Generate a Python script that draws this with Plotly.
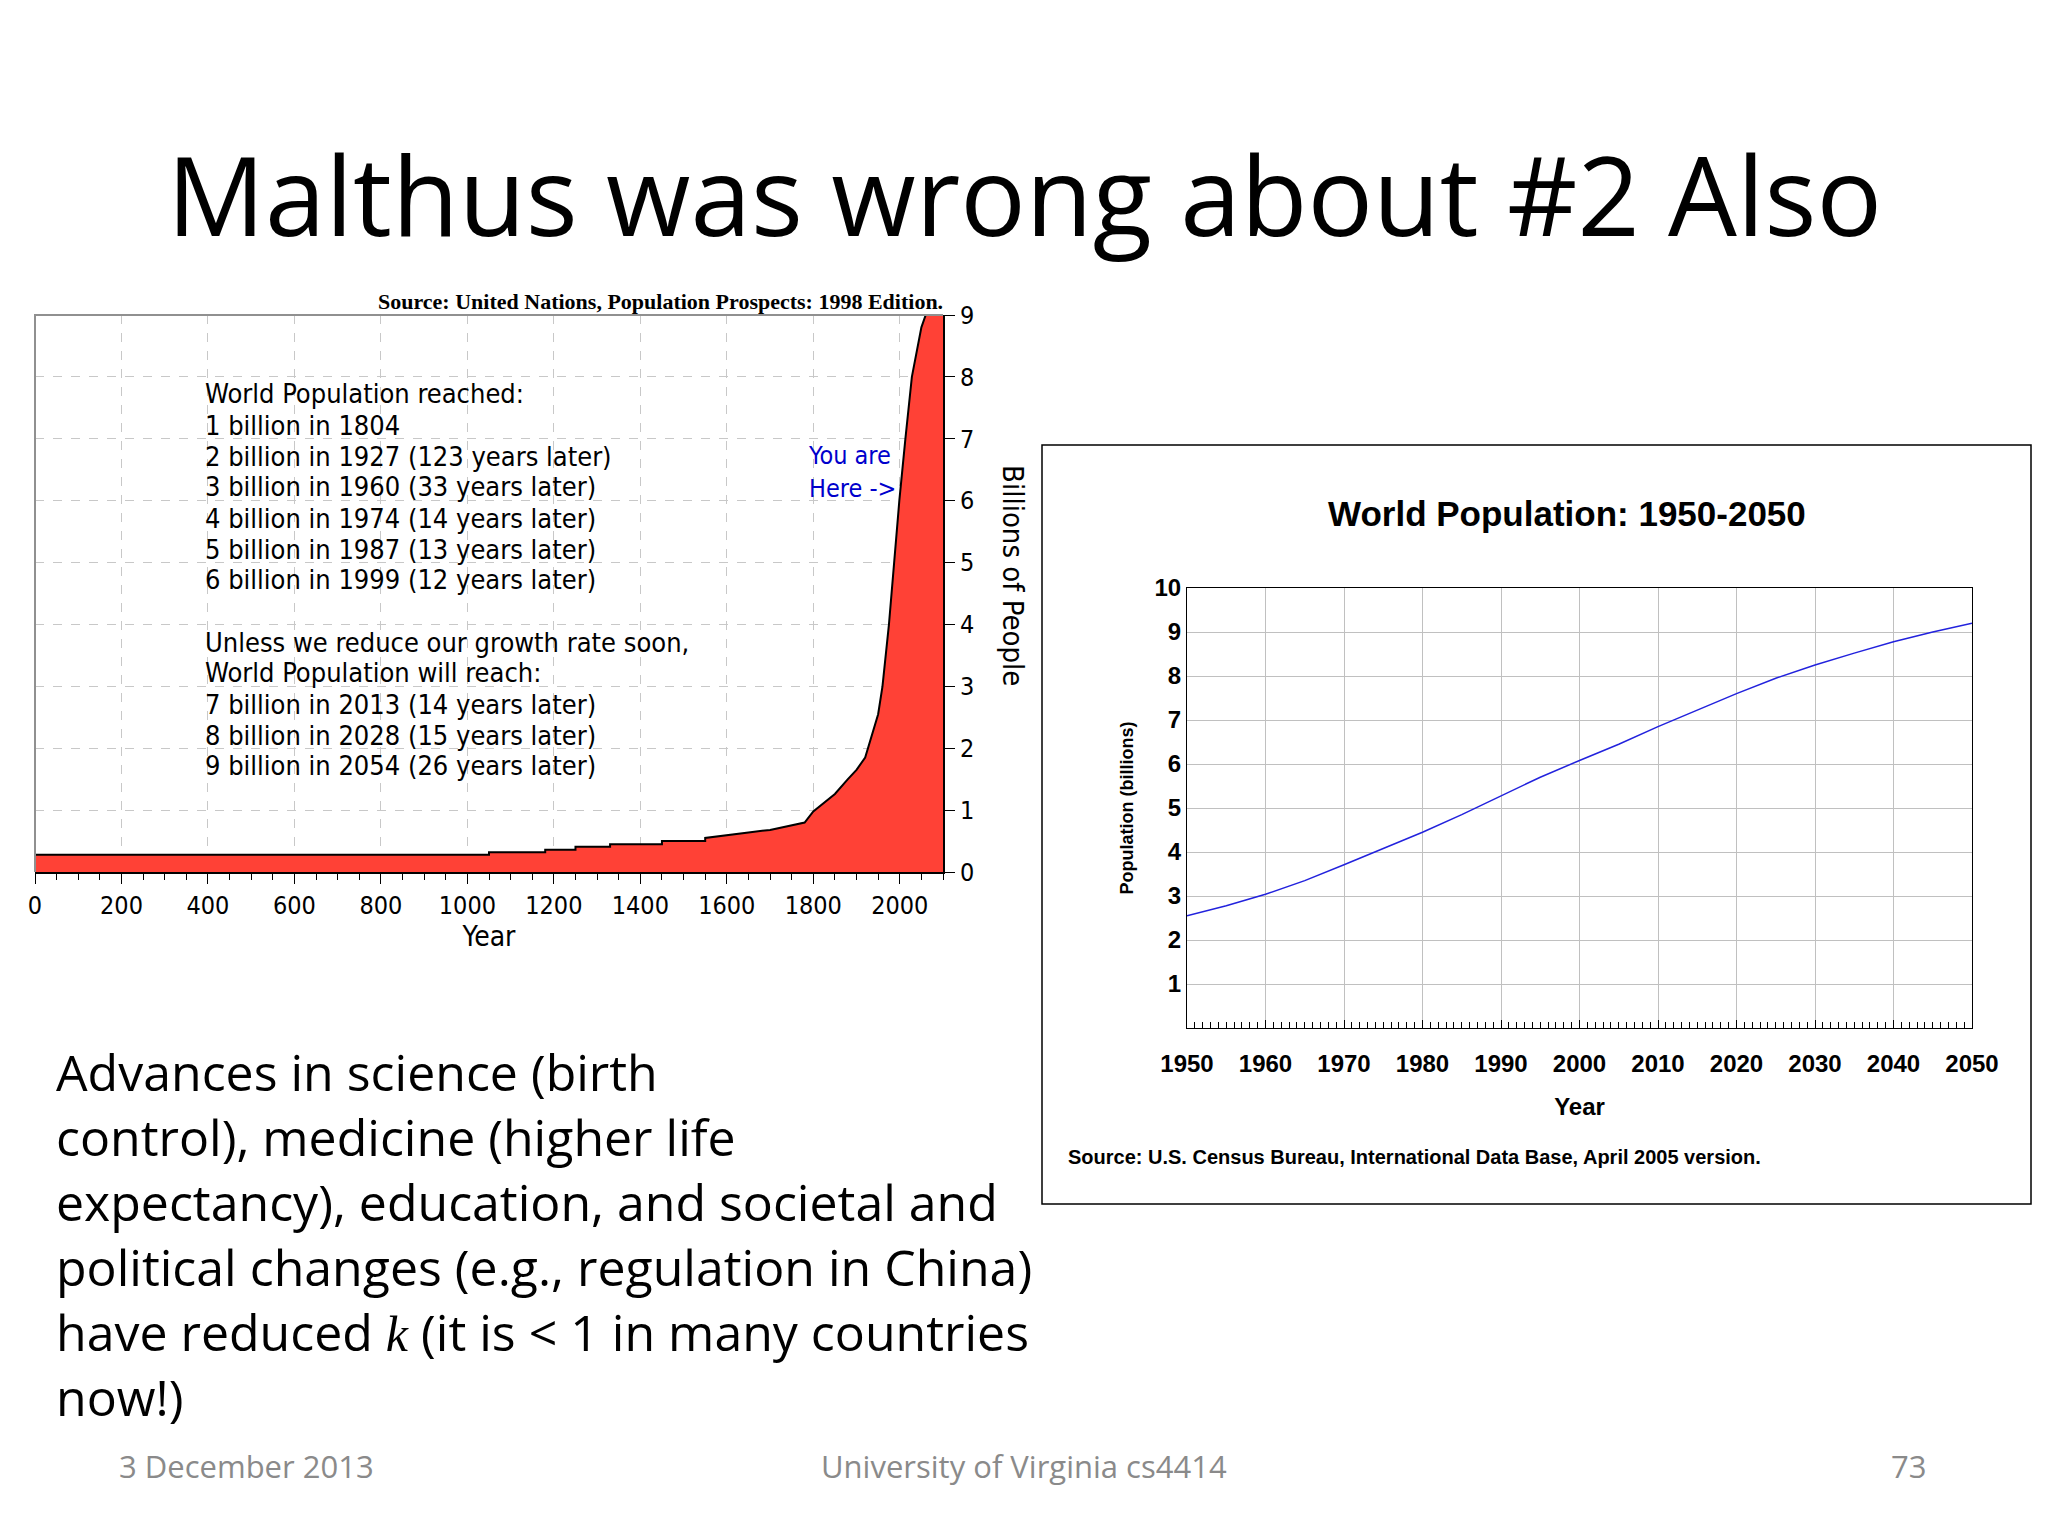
import plotly.graph_objects as go

W, H = 2048, 1536

# left chart: world population, year 0 .. 2100 (billions)
hist_years = [0, 1000, 1050, 1050, 1180, 1180, 1250, 1250, 1330, 1330, 1450, 1450, 1550,
              1550, 1600, 1650, 1700, 1750, 1780, 1800, 1850, 1880, 1900, 1920, 1950,
              1960, 1975, 1987, 1999, 2013, 2028, 2050, 2060, 2100]
hist_pop = [0.28, 0.28, 0.28, 0.32, 0.32, 0.36, 0.36, 0.41, 0.41, 0.45, 0.45, 0.50, 0.50,
            0.55, 0.60, 0.64, 0.68, 0.75, 0.80, 0.98, 1.26, 1.50, 1.65, 1.85, 2.55,
            3.0, 4.0, 5.0, 6.0, 7.0, 8.0, 8.8, 9.0, 9.0]

milestones = ["World Population reached:",
              "1 billion in 1804",
              "2 billion in 1927 (123 years later)",
              "3 billion in 1960 (33 years later)",
              "4 billion in 1974 (14 years later)",
              "5 billion in 1987 (13 years later)",
              "6 billion in 1999 (12 years later)",
              "",
              "Unless we reduce our growth rate soon,",
              "World Population will reach:",
              "7 billion in 2013 (14 years later)",
              "8 billion in 2028 (15 years later)",
              "9 billion in 2054 (26 years later)"]

# right chart: 1950-2050 (billions)
proj_years = [1950, 1955, 1960, 1965, 1970, 1975, 1980, 1985, 1990, 1995, 2000,
              2005, 2010, 2015, 2020, 2025, 2030, 2035, 2040, 2045, 2050]
proj_pop = [2.55, 2.78, 3.04, 3.35, 3.71, 4.08, 4.45, 4.85, 5.28, 5.70, 6.08,
            6.45, 6.85, 7.23, 7.60, 7.95, 8.25, 8.52, 8.78, 9.00, 9.20]

body = ("Advances in science (birth<br>control), medicine (higher life<br>"
        "expectancy), education, and societal and<br>political changes (e.g., regulation in China)<br>"
        "have reduced <span style='font-family:Liberation Serif'><i>k</i></span> (it is < 1 in many countries<br>now!)")

# page offset of the plot div inside the browser window
OFF = 8
def px(x): return (x - OFF) / W
def py(y): return 1 - (y - OFF) / H

PIX = "DejaVu Sans Condensed, DejaVu Sans"
SLIDE = "Open Sans"

fig = go.Figure()
fig.add_trace(go.Scatter(x=hist_years, y=hist_pop, mode="lines", fill="tozeroy",
                         fillcolor="#ff4136", line=dict(color="black", width=2),
                         xaxis="x", yaxis="y", showlegend=False))
fig.add_trace(go.Scatter(x=proj_years, y=proj_pop, mode="lines",
                         line=dict(color="#2222dd", width=1.5),
                         xaxis="x2", yaxis="y2", showlegend=False))

tick_font = dict(family=PIX, size=25, color="black")
rfont = dict(family="Liberation Sans", size=24, color="black", weight="bold")
fig.update_layout(
    width=W, height=H, margin=dict(l=0, r=0, t=0, b=0, autoexpand=False),
    paper_bgcolor="white", plot_bgcolor="white",
    font=dict(color="black"),
    xaxis=dict(domain=[px(35), px(943)], range=[0, 2100], dtick=200, tick0=0,
               automargin=False,
               showgrid=True, gridcolor="#c8c8c8", griddash="dash", zeroline=False,
               showline=True, linecolor="black", linewidth=2, ticks="outside",
               ticklen=10, tickcolor="black", tickfont=tick_font,
               minor=dict(dtick=50, ticks="outside", ticklen=6, tickcolor="black"),
               title=dict(text="Year", font=dict(family=PIX, size=28), standoff=6)),
    yaxis=dict(domain=[py(872), py(315)], range=[0, 9], dtick=1, side="right",
               automargin=False,
               showgrid=True, gridcolor="#c8c8c8", griddash="dash", zeroline=False,
               showline=True, linecolor="black", linewidth=2, ticks="outside",
               ticklen=10, tickcolor="black", tickfont=tick_font),
    xaxis2=dict(domain=[px(1187), px(1972)], range=[1950, 2050], dtick=10,
                anchor="y2", automargin=False,
                showgrid=True, gridcolor="#c0c0c0", zeroline=False,
                showline=True, linecolor="black", linewidth=1, mirror=True,
                ticks="inside", ticklen=8, tickcolor="black",
                minor=dict(dtick=1, ticks="inside", ticklen=6, tickcolor="black"),
                tickfont=rfont, ticklabelstandoff=14,
                title=dict(text="<b>Year</b>", font=dict(family="Liberation Sans", size=24),
                           standoff=22)),
    yaxis2=dict(domain=[py(1028), py(588)], range=[0, 10], anchor="x2", automargin=False,
                showgrid=True, gridcolor="#c0c0c0", zeroline=False,
                showline=True, linecolor="black", linewidth=1, mirror=True,
                tickvals=list(range(1, 11)), tickfont=rfont,
                title=dict(text="<b>Population (billions)</b>",
                           font=dict(family="Liberation Sans", size=18), standoff=16)),
)

def note(text, x, y, size, family, color="black", xa="center", ya="middle", **kw):
    return dict(text=text, x=px(x), y=py(y), xref="paper", yref="paper", showarrow=False,
                xanchor=xa, yanchor=ya, font=dict(family=family, size=size, color=color), **kw)

ann = [note("Malthus was wrong about #2 Also", 1024, 193, 109, SLIDE),
       note("<b>Source: United Nations, Population Prospects: 1998 Edition.</b>", 945, 301, 22,
            "Liberation Serif", xa="right")]
for i, line in enumerate(milestones):
    if line:
        ann.append(note(line, 203, 394 + i * 31, 27, PIX, xa="left"))
ann.append(note("You are<br>Here ->", 806, 472, 25, PIX, color="#0000cc", xa="left",
                align="left"))
ann.append(note("Billions of People", 1013, 575, 29, PIX, textangle=90))
ann.append(note("<b>World Population: 1950-2050</b>", 1567, 514, 35, "Liberation Sans"))
ann.append(note("<b>Source: U.S. Census Bureau, International Data Base, April 2005 version.</b>",
                1066, 1157, 20, "Liberation Sans Narrow, Liberation Sans", xa="left"))
ann.append(note(body, 54, 1036, 50, SLIDE, xa="left", ya="top", align="left"))
for t, x in [("3 December 2013", 246), ("University of Virginia cs4414", 1024), ("73", 1908)]:
    ann.append(note(t, x, 1466, 31, SLIDE, color="#8a8a8a"))
fig.update_layout(annotations=ann)

# gray frame on top and left of the left chart
fig.add_shape(type="path", xref="paper", yref="paper",
              path=f"M {px(35)},{py(872)} L {px(35)},{py(315)} L {px(943)},{py(315)}",
              line=dict(color="#909090", width=2))
fig.add_shape(type="rect", xref="paper", yref="paper", x0=px(1042), x1=px(2031),
              y0=py(1204), y1=py(445), line=dict(color="black", width=1.5))

fig.write_html("out.html")
